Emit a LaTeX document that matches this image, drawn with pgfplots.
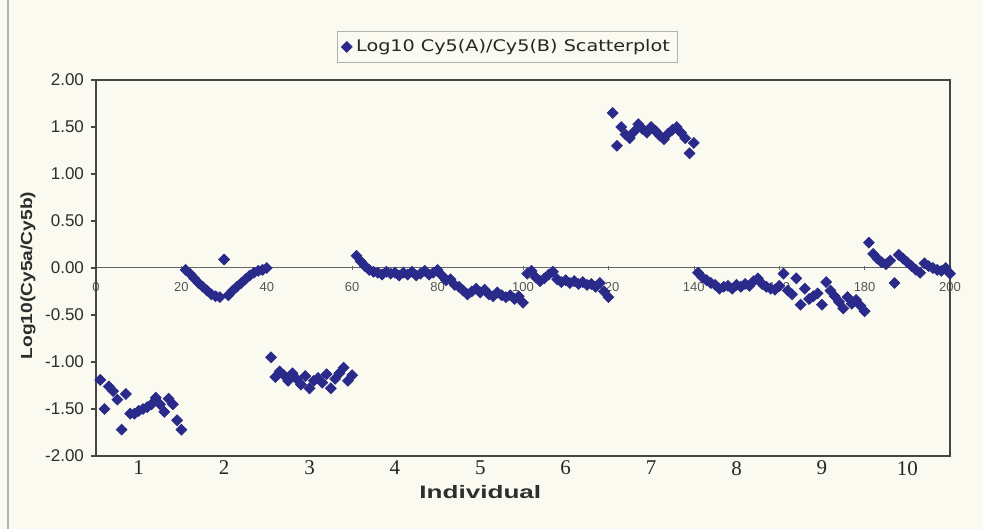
\documentclass[border=0pt]{standalone}
\usepackage{fontspec}
\setmainfont{Liberation Sans}
\newfontfamily\serifnum{Liberation Serif}
\newfontfamily\legfont[FakeStretch=1.2]{DejaVu Sans}
\newfontfamily\labfont[FakeStretch=1.45]{Liberation Sans}
\newfontfamily\ylabfont[FakeStretch=1.2]{Liberation Sans}
\usepackage{pgfplots}
\usepackage{pgfplotstable}
\pgfplotsset{compat=1.18}
\definecolor{bgcol}{RGB}{250,250,240}
\definecolor{mk}{RGB}{42,42,138}
\definecolor{axcol}{RGB}{70,70,70}
\definecolor{labcol}{RGB}{45,45,45}
\pgfplotstableread{
x y
1 -1.19
2 -1.50
3 -1.26
4 -1.31
5 -1.40
6 -1.72
7 -1.34
8 -1.55
9 -1.55
10 -1.52
11 -1.50
12 -1.48
13 -1.45
14 -1.38
15 -1.45
16 -1.53
17 -1.39
18 -1.45
19 -1.62
20 -1.72
21 -0.02
22 -0.06
23 -0.11
24 -0.16
25 -0.20
26 -0.24
27 -0.28
28 -0.30
29 -0.31
30 0.09
31 -0.29
32 -0.24
33 -0.20
34 -0.16
35 -0.12
36 -0.08
37 -0.05
38 -0.03
39 -0.02
40 0.00
41 -0.95
42 -1.16
43 -1.10
44 -1.14
45 -1.20
46 -1.12
47 -1.18
48 -1.24
49 -1.15
50 -1.28
51 -1.20
52 -1.17
53 -1.22
54 -1.13
55 -1.28
56 -1.18
57 -1.12
58 -1.06
59 -1.20
60 -1.14
61 0.13
62 0.07
63 0.02
64 -0.02
65 -0.04
66 -0.05
67 -0.07
68 -0.04
69 -0.06
70 -0.05
71 -0.08
72 -0.05
73 -0.07
74 -0.04
75 -0.08
76 -0.06
77 -0.03
78 -0.07
79 -0.05
80 -0.02
81 -0.08
82 -0.13
83 -0.12
84 -0.18
85 -0.20
86 -0.24
87 -0.28
88 -0.25
89 -0.22
90 -0.26
91 -0.23
92 -0.28
93 -0.30
94 -0.26
95 -0.29
96 -0.31
97 -0.29
98 -0.33
99 -0.30
100 -0.37
101 -0.06
102 -0.03
103 -0.10
104 -0.14
105 -0.11
106 -0.07
107 -0.04
108 -0.12
109 -0.15
110 -0.13
111 -0.16
112 -0.14
113 -0.17
114 -0.15
115 -0.18
116 -0.17
117 -0.20
118 -0.16
119 -0.25
120 -0.31
121 1.65
122 1.30
123 1.50
124 1.42
125 1.38
126 1.45
127 1.53
128 1.48
129 1.44
130 1.50
131 1.46
132 1.41
133 1.37
134 1.43
135 1.47
136 1.50
137 1.44
138 1.38
139 1.22
140 1.33
141 -0.05
142 -0.10
143 -0.13
144 -0.16
145 -0.18
146 -0.22
147 -0.20
148 -0.19
149 -0.22
150 -0.18
151 -0.20
152 -0.17
153 -0.19
154 -0.14
155 -0.11
156 -0.17
157 -0.20
158 -0.22
159 -0.23
160 -0.19
161 -0.06
162 -0.24
163 -0.28
164 -0.11
165 -0.39
166 -0.22
167 -0.33
168 -0.30
169 -0.27
170 -0.39
171 -0.15
172 -0.24
173 -0.30
174 -0.36
175 -0.43
176 -0.31
177 -0.38
178 -0.34
179 -0.40
180 -0.46
181 0.27
182 0.15
183 0.10
184 0.06
185 0.04
186 0.08
187 -0.16
188 0.14
189 0.10
190 0.06
191 0.02
192 -0.02
193 -0.05
194 0.05
195 0.02
196 0.00
197 -0.02
198 -0.03
199 0.00
200 -0.06
}\data
\begin{document}
\begin{tikzpicture}
\fill[bgcol] (0,0) rectangle (491.5pt,264.5pt);
\useasboundingbox (0,0) rectangle (491.5pt,264.5pt);
\draw[gray!60, line width=0.6pt] (4pt,0) -- (4pt,264.5pt);
% zero line with sample index ticks
\begin{axis}[
  at={(48pt,36.5pt)}, anchor=south west, scale only axis,
  width=427pt, height=188pt,
  xmin=0, xmax=200, ymin=-2, ymax=2,
  axis x line=middle, axis y line=none,
  axis line style={-, draw=gray!80!black, line width=0.5pt},
  xtick={0,20,...,200}, hide obscured x ticks=false,
  tick style={gray!80!black}, major tick length=2pt,
  xticklabel style={font=\fontsize{6.5}{7}\selectfont, text=labcol!80, yshift=-2.5pt},
  /pgf/number format/assume math mode=true,
]
\addplot[draw=none, forget plot] coordinates {(0,0)};
\end{axis}
\begin{axis}[
  at={(48pt,36.5pt)}, anchor=south west, scale only axis,
  width=427pt, height=188pt,
  xmin=0, xmax=200, ymin=-2, ymax=2,
  axis line style={draw=axcol, line width=0.8pt},
  tick align=outside, major tick length=2.5pt,
  tick style={axcol, line width=0.6pt},
  ytick={-2,-1.5,...,2}, ytick pos=left,
  /pgf/number format/assume math mode=true,
  yticklabel style={/pgf/number format/fixed, /pgf/number format/fixed zerofill, /pgf/number format/precision=2,
     font=\fontsize{8.5}{10}\selectfont, text=labcol},
  xtick={10,30,...,190}, xticklabels={1,2,3,4,5,6,7,8,9,10},
  x tick style={draw=none},
  xticklabel style={font=\serifnum\fontsize{10.5}{12}\selectfont, text=black!85, yshift=3.5pt},
  xlabel={Individual},
  xlabel style={at={(axis description cs:0.45,-0.0957)}, anchor=center, font=\labfont\bfseries\fontsize{9}{10}\selectfont, text=labcol},
  ylabel={Log10(Cy5a/Cy5b)},
  ylabel style={at={(axis description cs:-0.0796,0.48)}, anchor=center, font=\ylabfont\bfseries\fontsize{8}{10}\selectfont, text=labcol},
  legend style={at={(0.482,1.088)}, anchor=center, draw=gray!60, fill=bgcol,
     font=\legfont\fontsize{8}{9.6}\selectfont, text=black!85, inner xsep=2pt, inner ysep=2pt},
  legend image code/.code={\draw[#1] plot coordinates {(0pt,0pt)};},
]
\addplot[only marks, mark=square*, mark size=1.9pt, mark options={rotate=45, fill=mk, draw=mk}] table[x=x,y=y] {\data};
\addlegendentry{Log10 Cy5(A)/Cy5(B) Scatterplot}
\end{axis}
\end{tikzpicture}
\end{document}
